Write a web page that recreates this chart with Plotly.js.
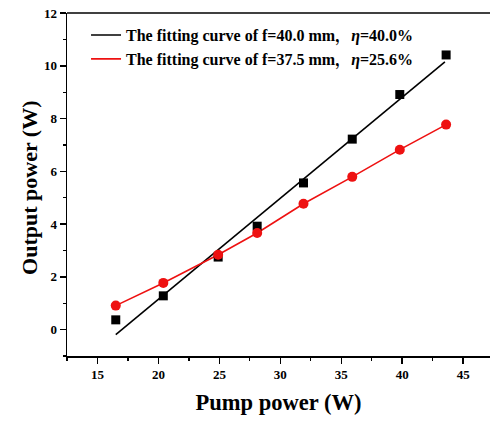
<!DOCTYPE html>
<html>
<head>
<meta charset="utf-8">
<script src="https://cdn.plot.ly/plotly-3.0.1.min.js"></script>
<style>html,body{margin:0;padding:0;background:#fff;}</style>
</head>
<body>
<div id="chart" style="width:490px;height:423px;"></div>
<script>
// Data
const pumpBlack = [16.5, 20.4, 24.9, 28.1, 31.9, 35.9, 39.8, 43.6];
const outBlack  = [0.37, 1.28, 2.75, 3.92, 5.56, 7.22, 8.91, 10.41];
const fitBlackX = [16.5, 43.5];
const fitBlackY = [-0.19, 10.15];
const pumpRed = [16.5, 20.4, 24.9, 28.1, 31.9, 35.9, 39.8, 43.6];
const outRed  = [0.91, 1.77, 2.84, 3.66, 4.77, 5.79, 6.82, 7.77];
const legendBlack = 'The fitting curve of f=40.0 mm，<i>η</i>=40.0%';
const legendRed   = 'The fitting curve of f=37.5 mm，<i>η</i>=25.6%';
const xTitle = 'Pump power (W)';
const yTitle = 'Output power (W)';

const font = 'Liberation Serif, "Noto Serif CJK SC", "Noto Sans CJK SC", Times New Roman, serif';

const traces = [
  {x: fitBlackX, y: fitBlackY, mode: 'lines', name: legendBlack,
   line: {color: '#000000', width: 1.6}},
  {x: pumpRed, y: outRed, mode: 'lines', name: legendRed,
   line: {color: '#ee1111', width: 1.6}},
  {x: pumpBlack, y: outBlack, mode: 'markers', showlegend: false,
   marker: {symbol: 'square', size: 9, color: '#000000'}},
  {x: pumpRed, y: outRed, mode: 'markers', showlegend: false,
   marker: {symbol: 'circle', size: 10, color: '#ee1111'}}
];

const layout = {
  width: 490, height: 423,
  margin: {l: 67, r: 0, t: 13, b: 67},
  paper_bgcolor: '#fff', plot_bgcolor: '#fff',
  font: {family: font, color: '#000'},
  showlegend: true,
  legend: {x: 0.045, y: 0.985, xanchor: 'left', yanchor: 'top',
           bgcolor: 'rgba(0,0,0,0)', borderwidth: 0,
           font: {family: font, size: 16, color: '#000', weight: 'bold'},
           tracegroupgap: 0},
  xaxis: {
    range: [12.5, 47.2], dtick: 5, tick0: 15,
    showgrid: false, zeroline: false,
    showline: true, linecolor: '#000', linewidth: 1.5,
    ticks: 'outside', ticklen: 6, tickwidth: 1.5, tickcolor: '#000',
    minor: {dtick: 2.5, ticks: 'outside', ticklen: 3, tickwidth: 1.2, tickcolor: '#000', showgrid: false},
    tickfont: {family: font, size: 13, weight: 'bold'},
    title: {text: xTitle, font: {family: font, size: 22.5, weight: 'bold'}, standoff: 13}
  },
  yaxis: {
    range: [-1, 12], dtick: 2, tick0: 0,
    showgrid: false, zeroline: false,
    showline: true, linecolor: '#000', linewidth: 1.5,
    ticks: 'outside', ticklen: 6, tickwidth: 1.5, tickcolor: '#000',
    minor: {dtick: 1, ticks: 'outside', ticklen: 3, tickwidth: 1.2, tickcolor: '#000', showgrid: false},
    tickfont: {family: font, size: 13, weight: 'bold'}
  },
  annotations: [
    {text: yTitle, xref: 'paper', yref: 'paper', x: -0.0875, y: 0.49,
     xanchor: 'center', yanchor: 'middle', textangle: -90, showarrow: false,
     font: {family: font, size: 22, weight: 'bold', color: '#000'}}
  ],
  shapes: [
    {type: 'line', xref: 'paper', yref: 'paper', x0: 0, x1: 1, y0: 1, y1: 1,
     line: {color: '#000', width: 1.5}}
  ]
};

Plotly.newPlot('chart', traces, layout, {displayModeBar: false, staticPlot: true});
</script>
</body>
</html>
